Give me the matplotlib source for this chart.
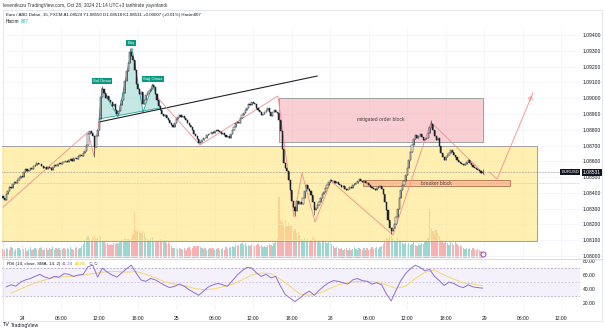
import numpy as np
import matplotlib.pyplot as plt
from matplotlib.patches import Rectangle, Polygon
from matplotlib.lines import Line2D

plt.rcParams['font.family'] = ['Liberation Sans', 'DejaVu Sans']

# EUR/USD 15m closes, bar 0 = Oct 23 21:00
first_open = 1.08380
closes = [
    1.08368, 1.08352, 1.08390, 1.08412, 1.08440, 1.08428, 1.08455, 1.08470, 1.08462, 1.08480,
    1.08494, 1.08510, 1.08498, 1.08532, 1.08551, 1.08538, 1.08546, 1.08560, 1.08549, 1.08570,
    1.08578, 1.08592, 1.08580, 1.08586, 1.08571, 1.08560, 1.08566, 1.08552, 1.08561, 1.08555,
    1.08548, 1.08566, 1.08579, 1.08571, 1.08585, 1.08590, 1.08582, 1.08597, 1.08593, 1.08600,
    1.08594, 1.08606, 1.08612, 1.08603, 1.08618, 1.08624, 1.08615, 1.08631, 1.08640, 1.08633,
    1.08652, 1.08668, 1.08705, 1.08770, 1.08795, 1.08781, 1.08760, 1.08690, 1.08760, 1.08800,
    1.08865, 1.09010, 1.09058, 1.09035, 1.09002, 1.09015, 1.08990, 1.08975, 1.08948, 1.08960,
    1.08928, 1.08898, 1.08920, 1.08958, 1.08990, 1.09030, 1.09110, 1.09170, 1.09225, 1.09290,
    1.09270, 1.09240, 1.09180, 1.09090, 1.09060, 1.09025, 1.09040, 1.08965, 1.08990, 1.09018,
    1.09030, 1.09045, 1.09060, 1.09085, 1.09070, 1.09025, 1.08990, 1.08950, 1.08922, 1.08900,
    1.08885, 1.08896, 1.08872, 1.08860, 1.08845, 1.08828, 1.08818, 1.08842, 1.08865, 1.08878,
    1.08893, 1.08882, 1.08890, 1.08872, 1.08860, 1.08845, 1.08832, 1.08818, 1.08796, 1.08770,
    1.08758, 1.08740, 1.08715, 1.08722, 1.08738, 1.08750, 1.08745, 1.08768, 1.08775, 1.08770,
    1.08788, 1.08782, 1.08795, 1.08800, 1.08792, 1.08785, 1.08772, 1.08778, 1.08765, 1.08752,
    1.08760, 1.08748, 1.08770, 1.08798, 1.08815, 1.08840, 1.08852, 1.08845, 1.08872, 1.08895,
    1.08905, 1.08922, 1.08940, 1.08965, 1.08958, 1.08975, 1.08968, 1.08960, 1.08940, 1.08925,
    1.08910, 1.08895, 1.08900, 1.08915, 1.08928, 1.08940, 1.08915, 1.08890, 1.08910, 1.08928,
    1.08915, 1.08905, 1.08860, 1.08790, 1.08680, 1.08590, 1.08560, 1.08540, 1.08480, 1.08420,
    1.08350, 1.08310, 1.08285, 1.08350, 1.08330, 1.08345, 1.08332, 1.08368, 1.08410, 1.08448,
    1.08425, 1.08410, 1.08385, 1.08340, 1.08290, 1.08305, 1.08325, 1.08345, 1.08370, 1.08390,
    1.08405, 1.08430, 1.08452, 1.08470, 1.08484, 1.08472, 1.08478, 1.08460, 1.08466, 1.08455,
    1.08450, 1.08438, 1.08445, 1.08425, 1.08415, 1.08422, 1.08435, 1.08428, 1.08450, 1.08458,
    1.08465, 1.08474, 1.08485, 1.08478, 1.08470, 1.08476, 1.08465, 1.08460, 1.08452, 1.08440,
    1.08430, 1.08422, 1.08415, 1.08430, 1.08438, 1.08445, 1.08425, 1.08390, 1.08345, 1.08290,
    1.08230, 1.08180, 1.08160, 1.08175, 1.08200, 1.08250, 1.08300, 1.08370, 1.08415, 1.08450,
    1.08478, 1.08515, 1.08560, 1.08610, 1.08660, 1.08705, 1.08740, 1.08765, 1.08750, 1.08758,
    1.08770, 1.08752, 1.08735, 1.08742, 1.08750, 1.08780, 1.08815, 1.08835, 1.08800, 1.08760,
    1.08735, 1.08748, 1.08700, 1.08650, 1.08630, 1.08610, 1.08625, 1.08642, 1.08655, 1.08670,
    1.08660, 1.08642, 1.08625, 1.08608, 1.08598, 1.08588, 1.08580, 1.08574, 1.08586, 1.08595,
    1.08606, 1.08590, 1.08575, 1.08566, 1.08558, 1.08550, 1.08545, 1.08536, 1.08524, 1.08531,
]
# long wicks that stand out from the bodies
wick_high = {62: 1.09075, 79: 1.09318, 267: 1.08860, 299: 1.08550}
wick_low = {57: 1.08630, 182: 1.08255, 194: 1.08260, 242: 1.08140, 299: 1.08518}

volumes = [
    1150, 980, 1320, 1210, 1080, 1450, 1270, 900, 1190, 1360,
    1240, 1020, 1510, 1130, 1280, 950, 1170, 1400, 1060, 1230,
    1320, 1110, 990, 1260, 1380, 1040, 1190, 1300, 1080, 1250,
    1160, 1420, 1030, 1270, 1120, 1350, 980, 1210, 1330, 1090,
    1260, 1140, 1380, 1200, 1050, 1310, 1460, 1180, 1290, 1520,
    1850, 2240, 2650, 2900, 2480, 2320, 2760, 2890, 2410, 2600,
    2950, 2780, 2300, 2050, 1780, 1920, 1650, 1840, 1720, 1980,
    1760, 1900, 1820, 2150, 2380, 2260, 2450, 2310, 2520, 2400,
    2600, 3100, 6000, 3600, 3400, 3550, 3200, 3450, 3300, 2600,
    2450, 2300, 2550, 2700, 2400, 2200, 2350, 2100, 2500, 2250,
    2050, 2300, 1950, 2150, 1800, 1500, 1350, 1250, 1400, 1150,
    1300, 1200, 1050, 1350, 1100, 1250, 1450, 1180, 1320, 1500,
    1400, 1550, 1600, 1380, 1250, 1150, 1300, 1080, 1200, 1350,
    1120, 1280, 1050, 1190, 1330, 1010, 1150, 1240, 1090, 1370,
    1210, 1300, 1480, 1560, 1420, 1650, 1500, 1720, 1850, 1980,
    1700, 1900, 1600, 1750, 1550, 1820, 1680, 1500, 1640, 1800,
    1550, 1720, 1480, 1600, 1390, 1650, 1820, 1700, 1580, 1900,
    2100, 2600, 7900, 5000, 4700, 4400, 4900, 4200, 4600, 4100,
    4300, 3500, 3800, 3200, 3400, 3000, 2500, 2300, 2600, 2200,
    2450, 2100, 2350, 2700, 2550, 2400, 2150, 2300, 2000, 2250,
    2100, 2350, 1950, 2050, 2200, 1800, 1500, 1350, 1400, 1250,
    1150, 1300, 1050, 1200, 1350, 1100, 1250, 1000, 1150, 1400,
    1200, 1080, 1320, 1150, 980, 1250, 1100, 1300, 1050, 1220,
    1380, 1150, 1270, 1400, 1200, 1450, 1550, 1800, 2300, 2650,
    2500, 2800, 2900, 2600, 2400, 2200, 2550, 2350, 2100, 1950,
    1850, 2000, 1700, 1900, 1650, 1800, 2050, 1750, 1600, 1850,
    1700, 1950, 1800, 2100, 2300, 2600, 6400, 3900, 3500, 3100,
    3700, 3300, 2900, 2300, 2100, 1900, 2250, 2000, 1750, 2150,
    1900, 1700, 2050, 1800, 1600, 1750, 1450, 1300, 1200, 1350,
    1150, 1250, 1050, 1300, 1100, 1000, 1200, 1080, 950, 807,
]

# RSI(14) sampled every 3rd bar, its SMA(14) every 6th bar
rsi_bars = list(range(2, 300, 3))
rsi_vals = [
    43, 46, 44, 50, 53, 55, 58, 61, 57, 55, 58, 57, 62, 61, 58, 60, 61, 72, 74, 57,
    70, 64, 60, 57, 63, 69, 74, 63, 53, 51, 55, 53, 49, 45, 42, 44, 47, 44, 39, 35,
    31, 37, 43, 46, 48, 46, 44, 52, 60, 66, 71, 70, 63, 58, 61, 56, 58, 44, 32, 27,
    22, 27, 33, 37, 31, 38, 44, 49, 52, 51, 49, 47, 53, 55, 52, 51, 47, 49, 46, 33,
    23, 38, 52, 62, 69, 74, 71, 66, 68, 58, 52, 45, 50, 48, 44, 42, 46, 43, 42, 41.24,
]
rsi_ma_bars = list(range(5, 300, 6))
rsi_ma_vals = [
    34, 40, 46, 51, 55, 57, 58, 59, 61, 63, 65, 65, 64, 65, 61, 56, 50, 47, 45, 41,
    39, 40, 43, 47, 53, 60, 63, 62, 54, 44, 33, 31, 34, 40, 46, 49, 51, 51, 50, 46,
    41, 44, 55, 64, 67, 60, 54, 49, 47, 44.85,
]

time_ticks = list(range(12, 360, 24))
time_labels = ['24', '06:00', '12:00', '18:00', '25', '06:00', '12:00', '18:00',
               '28', '06:00', '12:00', '18:00', '29', '06:00', '12:00']
price_ticks = np.round(np.arange(1.080, 1.0945, 0.001), 3)
rsi_ticks = [20, 40, 60, 80]

W, H = 605, 332
TXT = '#131722'
GRID = '#f0f3fa'
RED = '#f28c8c'
TEAL = '#089981'
FS = 3.6


def fbox(x0, y0, x1, y1):
    return [x0 / W, 1 - y1 / H, (x1 - x0) / W, (y1 - y0) / H]


fig = plt.figure(figsize=(W / 100, H / 100), dpi=100)
renderer = fig.canvas.get_renderer()


def text_row(x_px, y_px, parts, fs, gap=2.5):
    # lays out coloured legend pieces one after another
    x = x_px / W
    for s, col in parts:
        t = fig.text(x, 1 - y_px / H, s, fontsize=fs, color=col, va='center')
        x = (t.get_window_extent(renderer=renderer).x1 + gap) / W


ax = fig.add_axes(fbox(2, 27, 580, 258))
ax_r = fig.add_axes(fbox(2, 259, 580, 310), sharex=ax)

n = len(closes)
bars = np.arange(n)
c = np.array(closes)
o = np.array([first_open] + closes[:-1])
hi = np.maximum(o, c)
lo = np.minimum(o, c)
for i, v in wick_high.items():
    hi[i] = v
for i, v in wick_low.items():
    lo[i] = v
up = c >= o

# volume underneath the candles
ax_v = ax.twinx()
ax_v.bar(bars, volumes, width=0.8, color=np.where(up, '#26a69a', '#ef5350'),
         alpha=0.45, lw=0)
ax_v.set_ylim(0, 231 * 130)
ax_v.set_axis_off()
ax.set_zorder(ax_v.get_zorder() + 1)
ax.patch.set_visible(False)

# zones
ax.add_patch(Rectangle((-5, 1.08095), 337.9, 0.00602, fc=(1.0, 0.9, 0.5, 0.6),
                       ec='#a0a0a0', lw=0.7, zorder=1))
ax.add_patch(Rectangle((172.1, 1.08722), 127.2, 0.00279, fc=(0.97, 0.63, 0.67, 0.5),
                       ec='#a0a0a0', lw=0.7, zorder=1))
ax.text(235.7, 1.08862, 'mitigated order block', fontsize=FS, color='#4a3a3a',
        ha='center', va='center', zorder=2)
ax.add_patch(Rectangle((224.4, 1.08443), 91.7, 0.00038, fc=(0.96, 0.65, 0.51, 0.6),
                       ec='#b07050', lw=0.6, zorder=2))
ax.text(270, 1.08462, 'breaker block', fontsize=FS, color='#4a3a3a',
        ha='center', va='center', zorder=3)

# head and shoulders
hs = [(59.9, 1.08868), (61.7, 1.09064), (71.7, 1.08881), (80.4, 1.09318),
      (87.3, 1.08912), (93.5, 1.09090), (97.9, 1.08938)]
ax.add_patch(Polygon(hs, closed=True, fc=(0.5, 0.8, 0.77, 0.45), ec='#26a69a',
                     lw=0.6, zorder=3))
for bx, py, s in [(61.7, 1.09109, 'Sol Omuz'), (79.8, 1.09349, 'Baş'),
                  (93.5, 1.09121, 'Sağ Omuz')]:
    ax.text(bx, py, s, fontsize=3.0, color='white', ha='center', va='center', zorder=8,
            bbox=dict(boxstyle='square,pad=0.3', fc=TEAL, ec='none'))
ax.plot([59.9, 195.8], [1.08849, 1.09140], color='#222', lw=0.8, zorder=6)

# swing lines
swings = [
    [(0, 1.08310), (53, 1.08786), (56.7, 1.08634), (59.9, 1.08849)],
    [(96, 1.09007), (122.8, 1.08703), (171.4, 1.09014), (181.4, 1.08247),
     (186.4, 1.08526), (194.5, 1.08215), (204.5, 1.08475), (243.1, 1.08133),
     (266.8, 1.08849), (300.5, 1.08513)],
    [(303, 1.08532), (308, 1.08488), (330.4, 1.09033)],
]
for pts in swings:
    xs, ys = zip(*pts)
    ax.plot(xs, ys, color=RED, lw=0.6, zorder=6)
ax.annotate('', xy=swings[2][-1], xytext=(327.5, 1.08963),
            arrowprops=dict(arrowstyle='->,head_length=0.25,head_width=0.15',
                            color=RED, lw=0.6), zorder=6)

# candles
ax.vlines(bars, lo, hi, color='#1e222d', lw=0.4, zorder=7)
ax.bar(bars[up], (c - o)[up], bottom=o[up], width=0.7, color='white',
       edgecolor='#1e222d', lw=0.35, zorder=7)
ax.bar(bars[~up], (c - o)[~up], bottom=o[~up], width=0.7, color='#1e222d',
       edgecolor='#1e222d', lw=0.35, zorder=7)

cur = closes[-1]
ax.axhline(cur, color='#787b86', lw=0.5, ls=(0, (1, 1.2)), zorder=5)
ax.axhline(1.08462, color='#b2b5be', lw=0.5, ls=(0, (1, 1.2)), zorder=5)
ytr = ax.get_yaxis_transform()
ax.text(0.9985, cur, 'EURUSD', transform=ytr, fontsize=3.0, color='white',
        ha='right', va='center', zorder=10,
        bbox=dict(boxstyle='square,pad=0.3', fc=TXT, ec='none'))
ax.text(1.005, cur, f'{cur:.5f}', transform=ytr, fontsize=FS, color='white',
        ha='left', va='center', zorder=10, clip_on=False,
        bbox=dict(boxstyle='square,pad=0.2', fc=TXT, ec='none'))
ax.plot([299.2], [1.08013], marker='o', ms=3.6, mfc='white', mec='#9c27b0',
        mew=0.6, zorder=9)

ax.set_xlim(-0.62, 359.7)
ax.set_ylim(1.079874, 1.094507)
ax.set_yticks(price_ticks)
ax.set_yticklabels([f'{t:.5f}' for t in price_ticks])
ax.yaxis.tick_right()
ax.set_xticks(time_ticks)
ax.tick_params(axis='x', labelbottom=False, length=0)
ax.tick_params(axis='y', length=0, pad=2, labelsize=FS, labelcolor=TXT)
ax.grid(True, color=GRID, lw=0.5)
ax.set_axisbelow(True)
for s in ax.spines.values():
    s.set_visible(False)

# RSI pane
ax_r.axhspan(30, 70, color='#7e57c2', alpha=0.08, lw=0)
for lvl, a in [(70, 1.0), (50, 0.6), (30, 1.0)]:
    ax_r.axhline(lvl, color='#9c8fc0', lw=0.5, ls=(0, (2.5, 2.5)), alpha=a)
ax_r.plot(rsi_ma_bars, rsi_ma_vals, color='#f7d86a', lw=0.7)
ax_r.plot(rsi_bars, rsi_vals, color='#8e6fd6', lw=0.7)
ax_r.set_ylim(10, 82.9)
ax_r.set_yticks(rsi_ticks)
ax_r.set_yticklabels([f'{t:.2f}' for t in rsi_ticks])
ax_r.yaxis.tick_right()
ax_r.set_xticks(time_ticks)
ax_r.set_xticklabels(time_labels)
ax_r.tick_params(axis='both', length=0, labelsize=FS, labelcolor=TXT)
ax_r.tick_params(axis='x', pad=4)
ax_r.tick_params(axis='y', pad=2)
ax_r.grid(True, axis='x', color=GRID, lw=0.5)
for s in ax_r.spines.values():
    s.set_visible(False)

# legends and frame
fig.text(3 / W, 1 - 5 / H, 'leventkuzu TradingView.com, Oct 28, 2024 21:14 UTC+3 tarihinde yayınlandı',
         fontsize=3.4, color='#333', va='center')
fig.text(6 / W, 1 - 15 / H,
         'Euro / ABD Doları, 15, FXCM A1.08524 Y1.08550 D1.08518 K1.08531 +0.00007 (+0.01%) Hacim807',
         fontsize=3.15, color=TXT, va='center')
text_row(6, 21.5, [('Hacim', TXT), ('807', '#26a69a')], 3.4, gap=1.5)
text_row(7, 264, [('RSI (14, close, SMA, 14, 2)', TXT), ('41.24', '#7e57c2'),
                  ('44.85', '#e0b400'), ('∅', '#555'), ('∅', '#555')], 3.2, gap=2)
text_row(3, 325, [('TV', TXT)], 4.0)
fig.text(11 / W, 1 - 325 / H, 'TradingView', fontsize=3.6, color=TXT, va='center')

frame = Rectangle((3 / W, 1 - 321 / H), 599 / W, 311 / H, transform=fig.transFigure,
                  fill=False, ec='#e0e3eb', lw=0.6)
fig.add_artist(frame)
fig.add_artist(Line2D([3 / W, 602 / W], [1 - 258.5 / H, 1 - 258.5 / H],
                      color='#d1d4dc', lw=0.6))

fig.savefig('out.png', dpi=100)
